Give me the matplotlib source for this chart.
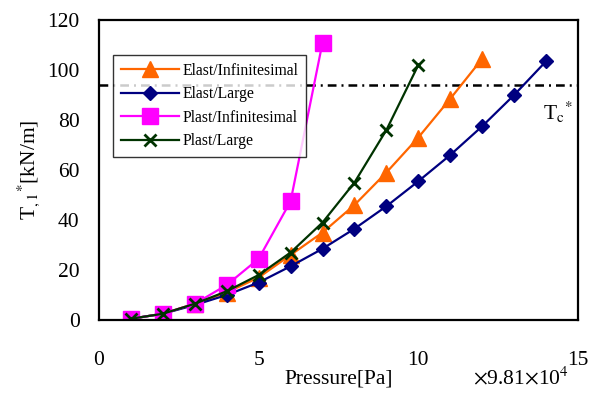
import matplotlib
matplotlib.use("Agg")
import matplotlib.pyplot as plt

plt.rcParams['font.family'] = ['Liberation Serif', 'DejaVu Serif']
plt.rcParams['mathtext.fontset'] = 'stix'

# pressure steps (x 9.81e4 Pa)
p_ei = [1, 2, 3, 4, 5, 6, 7, 8, 9, 10, 11, 12]
t_ei = [0.5, 2.5, 6.5, 11, 17, 26, 35, 46, 59, 73, 88.5, 104.5]

p_el = [1, 2, 3, 4, 5, 6, 7, 8, 9, 10, 11, 12, 13, 14]
t_el = [0.5, 2.5, 6, 10, 15, 21.5, 28.5, 36.5, 45.5, 55.5, 66, 77.5, 90, 103.5]

p_pi = [1, 2, 3, 4, 5, 6, 7]
t_pi = [0.5, 2.5, 6.5, 14, 24.5, 47.5, 111]

p_pl = [1, 2, 3, 4, 5, 6, 7, 8, 9, 10]
t_pl = [0.5, 2.5, 6.5, 11.5, 18, 27, 39, 55, 76, 102]

tc = 94

fig = plt.figure(figsize=(5.9, 3.97), dpi=100)
ax = fig.add_axes([99/590, 77/397, 479/590, 300/397])

ax.axhline(tc, color='k', lw=1.8, dashes=(3.5, 2, 0.8, 2), zorder=1)

ax.plot(p_ei, t_ei, color='#FF6600', lw=1.6, marker='^', ms=11, label='Elast/Infinitesimal')
ax.plot(p_el, t_el, color='#000080', lw=1.6, marker='D', ms=7.5, label='Elast/Large')
ax.plot(p_pi, t_pi, color='#FF00FF', lw=1.6, marker='s', ms=11, label='Plast/Infinitesimal')
ax.plot(p_pl, t_pl, color='#003300', lw=1.6, marker='x', ms=9, mew=2, label='Plast/Large')

ax.set_xlim(0, 15)
ax.set_ylim(0, 120)
ax.set_xticks([0, 5, 10, 15])
ax.set_yticks([0, 20, 40, 60, 80, 100, 120])
ax.tick_params(length=0, labelsize=15.5)
ax.tick_params(axis='x', pad=22)
ax.tick_params(axis='y', pad=14)
for s in ax.spines.values():
    s.set_linewidth(1.6)

ax.set_xlabel('Pressure[Pa]', fontsize=15.5, labelpad=0)
ax.set_ylabel(r'T$_{,1}$$^{*}$[kN/m]', fontsize=15.5, labelpad=4)
ax.text(14.85, 83, r'T$_{\rm c}$$^{*}$', fontsize=15.5, ha='right', va='center')
fig.text(0.965, 0.018, r'$\times$9.81$\times$10$^{4}$', fontsize=15.5, ha='right', va='bottom')

leg = ax.legend(loc='upper left', bbox_to_anchor=(0.029, 0.883), fontsize=11.3,
                frameon=True, fancybox=False, edgecolor='k', borderpad=0.5,
                borderaxespad=0, labelspacing=0.47, handlelength=3.7, handletextpad=0.25)
leg.get_frame().set_linewidth(1.0)

fig.savefig('out.png', dpi=100)
